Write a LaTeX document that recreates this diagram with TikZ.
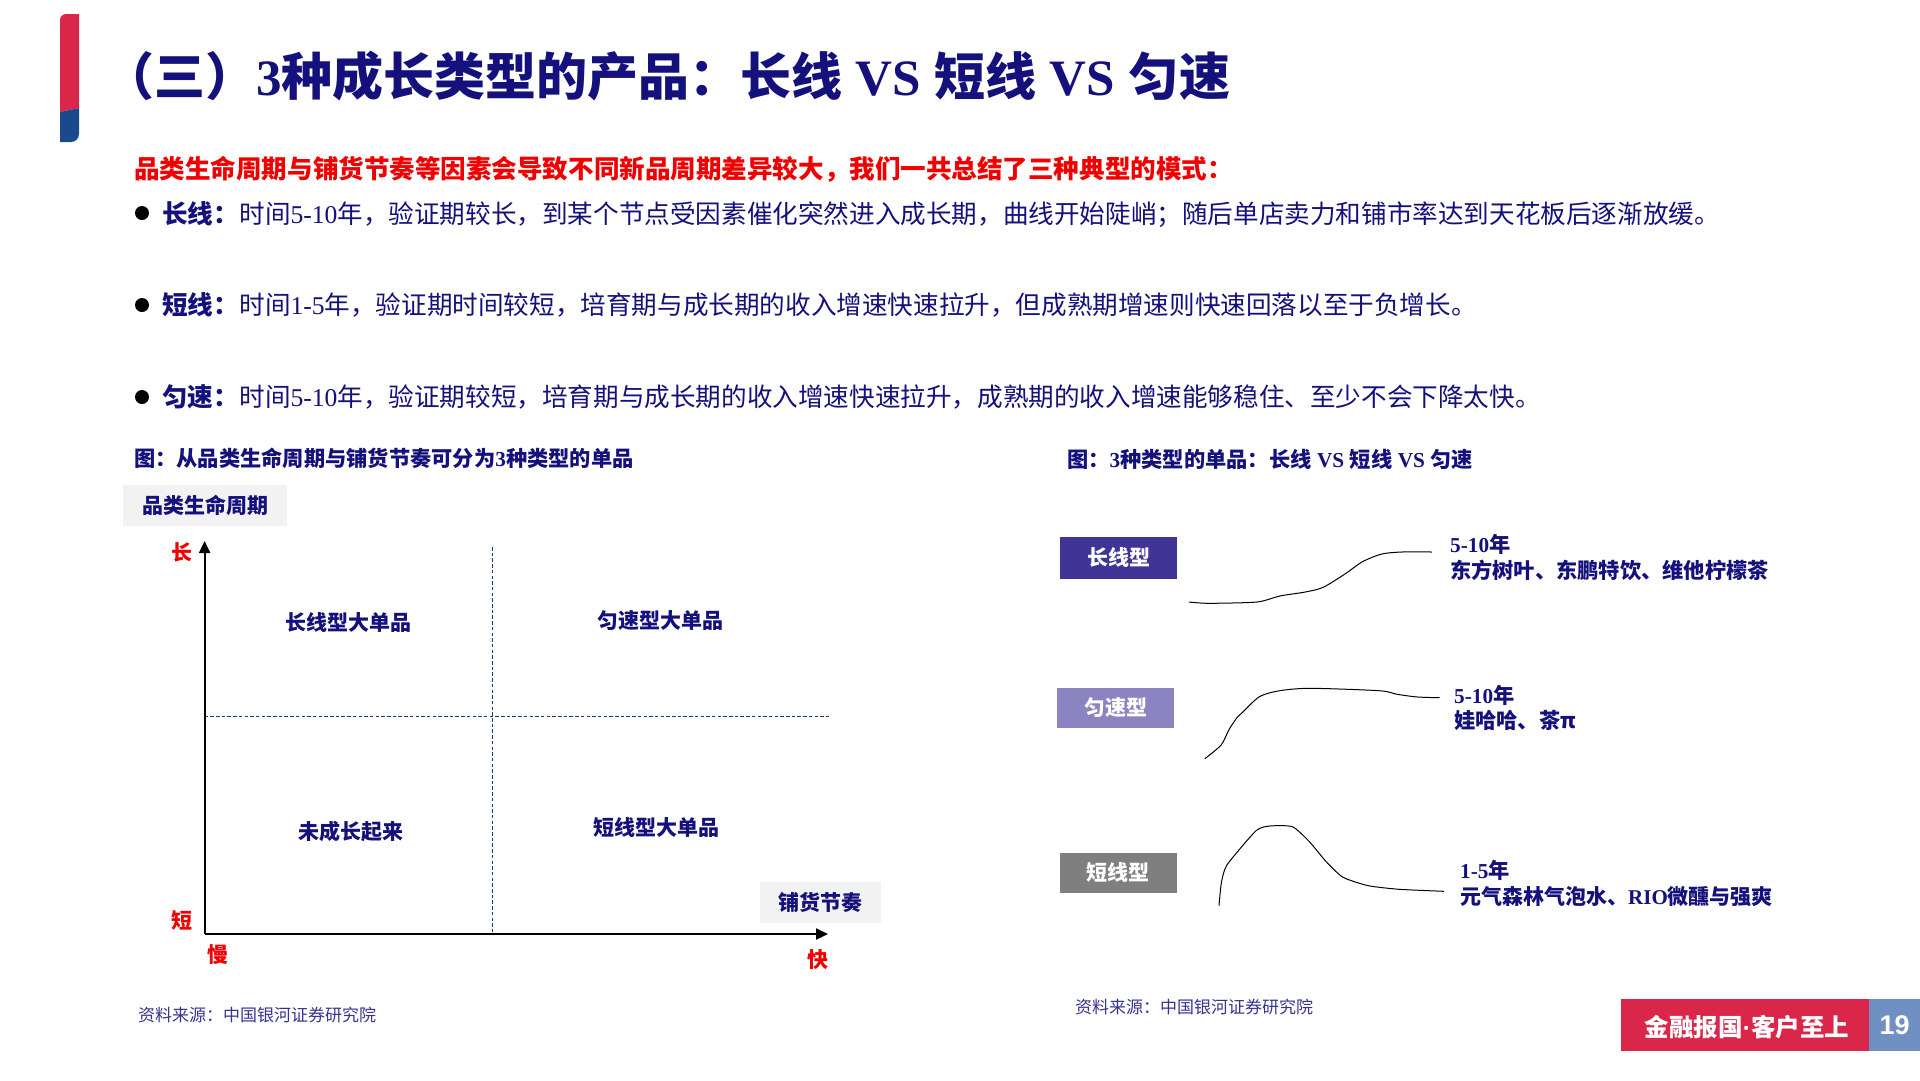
\documentclass[tikz,border=0pt]{standalone}
\usepackage{fontspec}
\usetikzlibrary{arrows.meta}
\setmainfont{Noto Sans CJK SC}
\newfontfamily\lat{Liberation Serif}
\newfontfamily\footerfont{Liberation Sans}
\newcommand{\fsz}[1]{\fontsize{#1}{#1}\selectfont}
\newcommand{\la}[1]{{\lat #1}}
\newcommand{\gap}{\hspace{.26em}}
\definecolor{navy}{HTML}{14107C}
\definecolor{barred}{HTML}{DA2648}
\definecolor{barblue}{HTML}{1A4A8C}
\definecolor{footblue}{HTML}{7090C4}
\definecolor{pill}{HTML}{F2F2F2}
\definecolor{typeA}{HTML}{403496}
\definecolor{typeB}{HTML}{8B84C0}
\definecolor{typeC}{HTML}{7F7F7F}
\definecolor{redtxt}{HTML}{F00000}
\tikzset{
  reg/.style={inner sep=0pt,font=\fsz{#1},text height=#1*0.88pt,text depth=#1*0.12pt},
  bld/.style={inner sep=0pt,font=\fsz{#1}\bfseries,text height=#1*0.88pt,text depth=#1*0.12pt},
  bodytxt/.style={reg=25.6,anchor=west,text=navy},
  lead/.style={bld=25.6,anchor=west,text=navy},
  caption/.style={bld=21.25,anchor=west,text=navy},
  source/.style={reg=17,anchor=west,text=navy!85},
  quad/.style={bld=21,text=navy},
  axislabel/.style={bld=21,text=redtxt},
  pillbox/.style={bld=21,fill=pill,minimum width=#1,minimum height=41pt,text=navy},
  typebox/.style={bld=21,minimum width=117pt,text=white},
  axisline/.style={line width=2.2pt,-{Triangle[length=12pt,width=11pt]}},
  divider/.style={line width=.7pt,draw=barblue!80!black,dash pattern=on 3.5pt off 2.2pt},
  curve/.style={line width=1pt,black,line join=round},
  blob/.style={circle,fill=black,minimum size=14pt,inner sep=0pt}
}
\begin{document}
\begin{tikzpicture}[x=1pt,y=-1pt]
\useasboundingbox (0,0) rectangle (1920,1080);
\fill[white] (0,0) rectangle (1920,1080);

% side bar
\fill[barred] (60,112) [rounded corners=6pt] -- (60,14) [sharp corners] -- (79,14) -- (79,108) -- cycle;
\fill[barblue] (60,112) -- (79,108) [rounded corners=8pt] -- (79,142) [sharp corners] -- (60,142) -- cycle;

% title
\node[bld=51,anchor=west,text=navy] (title) at (103,76) {（三）\la{3}种成长类型的产品：长线\gap\la{VS}\gap 短线\gap\la{VS}\gap 匀速};

% intro
\node[bld=25.55,anchor=west,text=redtxt] (intro) at (134,169) {品类生命周期与铺货节奏等因素会导致不同新品周期差异较大，我们一共总结了三种典型的模式：};

\node[blob] (b1) at (142,213) {};
\node[lead] (l1) at (162,214) {长线：};
\node[bodytxt] (t1) at (l1.east) {时间\la{5-10}年，验证期较长，到某个节点受因素催化突然进入成长期，曲线开始陡峭；随后单店卖力和铺市率达到天花板后逐渐放缓。};
\node[blob] (b2) at (142,305) {};
\node[lead] (l2) at (162,305) {短线：};
\node[bodytxt] (t2) at (l2.east) {时间\la{1-5}年，验证期时间较短，培育期与成长期的收入增速快速拉升，但成熟期增速则快速回落以至于负增长。};
\node[blob] (b3) at (142,397) {};
\node[lead] (l3) at (162,397) {匀速：};
\node[bodytxt] (t3) at (l3.east) {时间\la{5-10}年，验证期较短，培育期与成长期的收入增速快速拉升，成熟期的收入增速能够稳住、至少不会下降太快。};

% captions
\node[caption] (capL) at (134,458) {图：从品类生命周期与铺货节奏可分为\la{3}种类型的单品};
\node[caption] (capR) at (1067,459) {图：\la{3}种类型的单品：长线\gap\la{VS}\gap 短线\gap\la{VS}\gap 匀速};

% left matrix
\node[pillbox=164pt] (yname) at (205,505.5) {品类生命周期};
\node[pillbox=121pt] (xname) at (820.5,902.5) {铺货节奏};
\coordinate (origin) at (204.6,934);
\coordinate (ytip) at (204.6,541);
\coordinate (xtip) at (828,934);
\coordinate (vtop) at (492,547);
\coordinate (vbot) at (492,934);
\coordinate (hleft) at (204.6,716);
\coordinate (hright) at (830,716);
\draw[divider] (vtop) -- (vbot);
\draw[divider] (hleft) -- (hright);
\draw[axisline] (origin) -- (ytip);
\draw[axisline] (origin) -- (xtip);
\node[axislabel] (ylong) at (182,552.5) {长};
\node[axislabel] (yshort) at (182,921) {短};
\node[axislabel] (xslow) at (218,955) {慢};
\node[axislabel] (xfast) at (818,960) {快};
\node[quad] (q1) at (348,622.5) {长线型大单品};
\node[quad] (q2) at (660,620.5) {匀速型大单品};
\node[quad] (q3) at (350.5,832) {未成长起来};
\node[quad] (q4) at (656,828) {短线型大单品};
\node[source] (srcL) at (138,1015) {资料来源：中国银河证券研究院};

% right panel
\node[typebox,fill=typeA,minimum height=42pt] (boxA) at (1118.5,558) {长线型};
\node[typebox,fill=typeB,minimum height=40pt] (boxB) at (1115.5,708) {匀速型};
\node[typebox,fill=typeC,minimum height=40pt] (boxC) at (1118,873) {短线型};

\draw[curve] plot[smooth,tension=.45] coordinates {(1189,602) (1208.4,603.3) (1256.8,602) (1279.8,596) (1305.3,592) (1323.2,587.3) (1346,573.3) (1362.4,561.7) (1381.8,554) (1402,552) (1431.8,552)};
\draw[curve] plot[smooth,tension=.45] coordinates {(1204.8,758.7) (1221.1,745) (1228.8,730) (1236.4,718.3) (1241.5,713.3) (1259.4,696.7) (1279.8,690.7) (1310.4,688.3) (1379.3,690.7) (1397.1,694.3) (1417.6,697) (1439.5,697.7)};
\draw[curve] plot[smooth,tension=.35] coordinates {(1219,905.7) (1221.3,883.3) (1226.9,865) (1256,830.7) (1270,826) (1292.5,826.7) (1309.4,841.7) (1326.2,861.7) (1343,877.3) (1368.3,885.7) (1399.2,889.3) (1444,891.3)};

\node[caption] (y1) at (1450,544) {\la{5-10}年};
\node[caption] (n1) at (1450,570) {东方树叶、东鹏特饮、维他柠檬茶};
\node[caption] (y2) at (1454,695) {\la{5-10}年};
\node[caption] (n2) at (1454,720) {娃哈哈、茶π};
\node[caption] (y3) at (1460,870.5) {\la{1-5}年};
\node[bld=21,anchor=west,text=navy] (n3) at (1460,896.5) {元气森林气泡水、\la{RIO}微醺与强爽};
\node[source] (srcR) at (1075,1007.5) {资料来源：中国银河证券研究院};

% footer
\node[fill=barred,minimum width=248pt,minimum height=52pt,inner sep=0pt,text=white,font=\fsz{24.5}\bfseries,text height=24pt,text depth=1pt] (slogan) at (1745,1025) {\hspace{4pt}金融报国{\footerfont ·}客户至上};
\node[fill=footblue,minimum width=51pt,minimum height=52pt,inner sep=0pt,text=white,font=\footerfont\fsz{27}\bfseries] (page) at (1894.5,1025) {19};
\end{tikzpicture}
\end{document}
